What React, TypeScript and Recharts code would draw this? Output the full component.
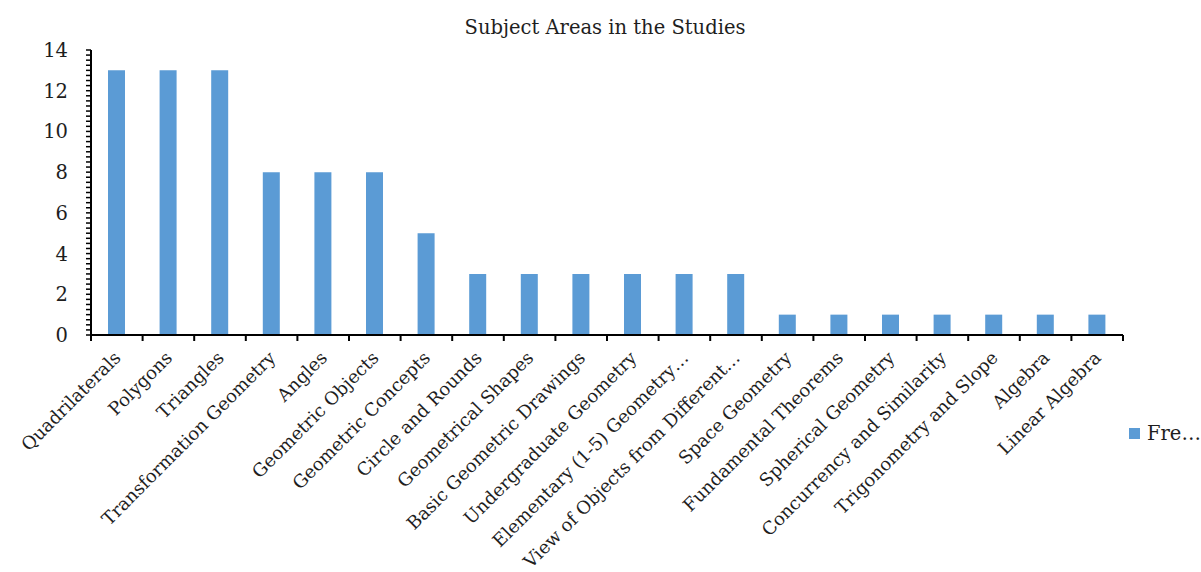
import { BarChart, Bar, XAxis, YAxis, Legend } from 'recharts'

const subjects = [
  'Quadrilaterals', 'Polygons', 'Triangles', 'Transformation Geometry', 'Angles',
  'Geometric Objects', 'Geometric Concepts', 'Circle and Rounds', 'Geometrical Shapes',
  'Basic Geometric Drawings', 'Undergraduate Geometry', 'Elementary (1-5) Geometry…',
  'View of Objects from Different…', 'Space Geometry', 'Fundamental Theorems',
  'Spherical Geometry', 'Concurrency and Similarity', 'Trigonometry and Slope',
  'Algebra', 'Linear Algebra',
]
const frequency = [13, 13, 13, 8, 8, 8, 5, 3, 3, 3, 3, 3, 3, 1, 1, 1, 1, 1, 1, 1]
const majorTicks = [0, 2, 4, 6, 8, 10, 12, 14]
const minorStep = 0.25

const data = subjects.map((name, i) => ({ name, freq: frequency[i] }))
const yTicks: number[] = []
for (let v = 0; v <= 14 + 1e-9; v += minorStep) yTicks.push(Math.round(v * 100) / 100)

const FONT = '"DejaVu Serif", serif'
const INK = '#1e1e1e'
const FS = 19.5

// category labels are a touch smaller so the longest one fits above the bottom edge
const XTick = (props: any) => {
  const { x, y, payload, index, visibleTicksCount, width } = props
  const bw = width / visibleTicksCount
  const last = index === visibleTicksCount - 1
  const tx = x + 5
  const ty = y + 24
  return (
    <g>
      <line x1={x - bw / 2} y1={y} x2={x - bw / 2} y2={y + 6} stroke="#000" strokeWidth={2} />
      {last && <line x1={x + bw / 2} y1={y} x2={x + bw / 2} y2={y + 6} stroke="#000" strokeWidth={2} />}
      <text
        x={tx} y={ty}
        textAnchor="end"
        transform={`rotate(-45, ${tx}, ${ty})`}
        fontFamily={FONT} fontSize={18} fill={INK}
      >
        {payload.value}
      </text>
    </g>
  )
}

const YTick = (props: any) => {
  const { x, y, payload } = props
  if (!majorTicks.includes(payload.value)) return null
  return (
    <text x={x} y={y} dy={7} textAnchor="end" fontFamily={FONT} fontSize={FS} fill={INK}>
      {payload.value}
    </text>
  )
}

const LegendBox = () => (
  <div style={{ display: 'flex', alignItems: 'center', fontFamily: FONT, fontSize: FS, color: INK, whiteSpace: 'nowrap' }}>
    <span style={{ width: 11, height: 11, background: '#5B9BD5', display: 'inline-block', marginRight: 7 }} />
    Fre…
  </div>
)

export default function App() {
  return (
    <div style={{ position: 'absolute', left: 0, top: 0, width: 1201, height: 572, background: '#fff' }}>
      <div style={{
        position: 'absolute', left: 0, width: 1210, top: 14, textAlign: 'center',
        fontFamily: FONT, fontSize: FS, color: INK, lineHeight: '28px',
      }}>
        Subject Areas in the Studies
      </div>
      <BarChart
        width={1201} height={572} data={data}
        margin={{ top: 50, right: 78, bottom: 7, left: 0 }}
      >
        <XAxis
          dataKey="name" interval={0} height={230}
          tickLine={false} tickSize={0} tickMargin={0}
          axisLine={{ stroke: '#000', strokeWidth: 2 }}
          tick={<XTick />}
        />
        <YAxis
          width={91} domain={[0, 14]} ticks={yTicks} interval={0}
          tickSize={5} tickMargin={18}
          tickLine={{ stroke: '#000', strokeWidth: 1.5 }}
          axisLine={{ stroke: '#000', strokeWidth: 2 }}
          tick={<YTick />}
        />
        <Legend
          layout="horizontal" verticalAlign="middle" align="center"
          content={<LegendBox />}
          wrapperStyle={{ position: 'absolute', left: 1129, top: 422, width: 80 }}
        />
        <Bar dataKey="freq" name="Frequency" fill="#5B9BD5" barSize={17} isAnimationActive={false} />
      </BarChart>
    </div>
  )
}
